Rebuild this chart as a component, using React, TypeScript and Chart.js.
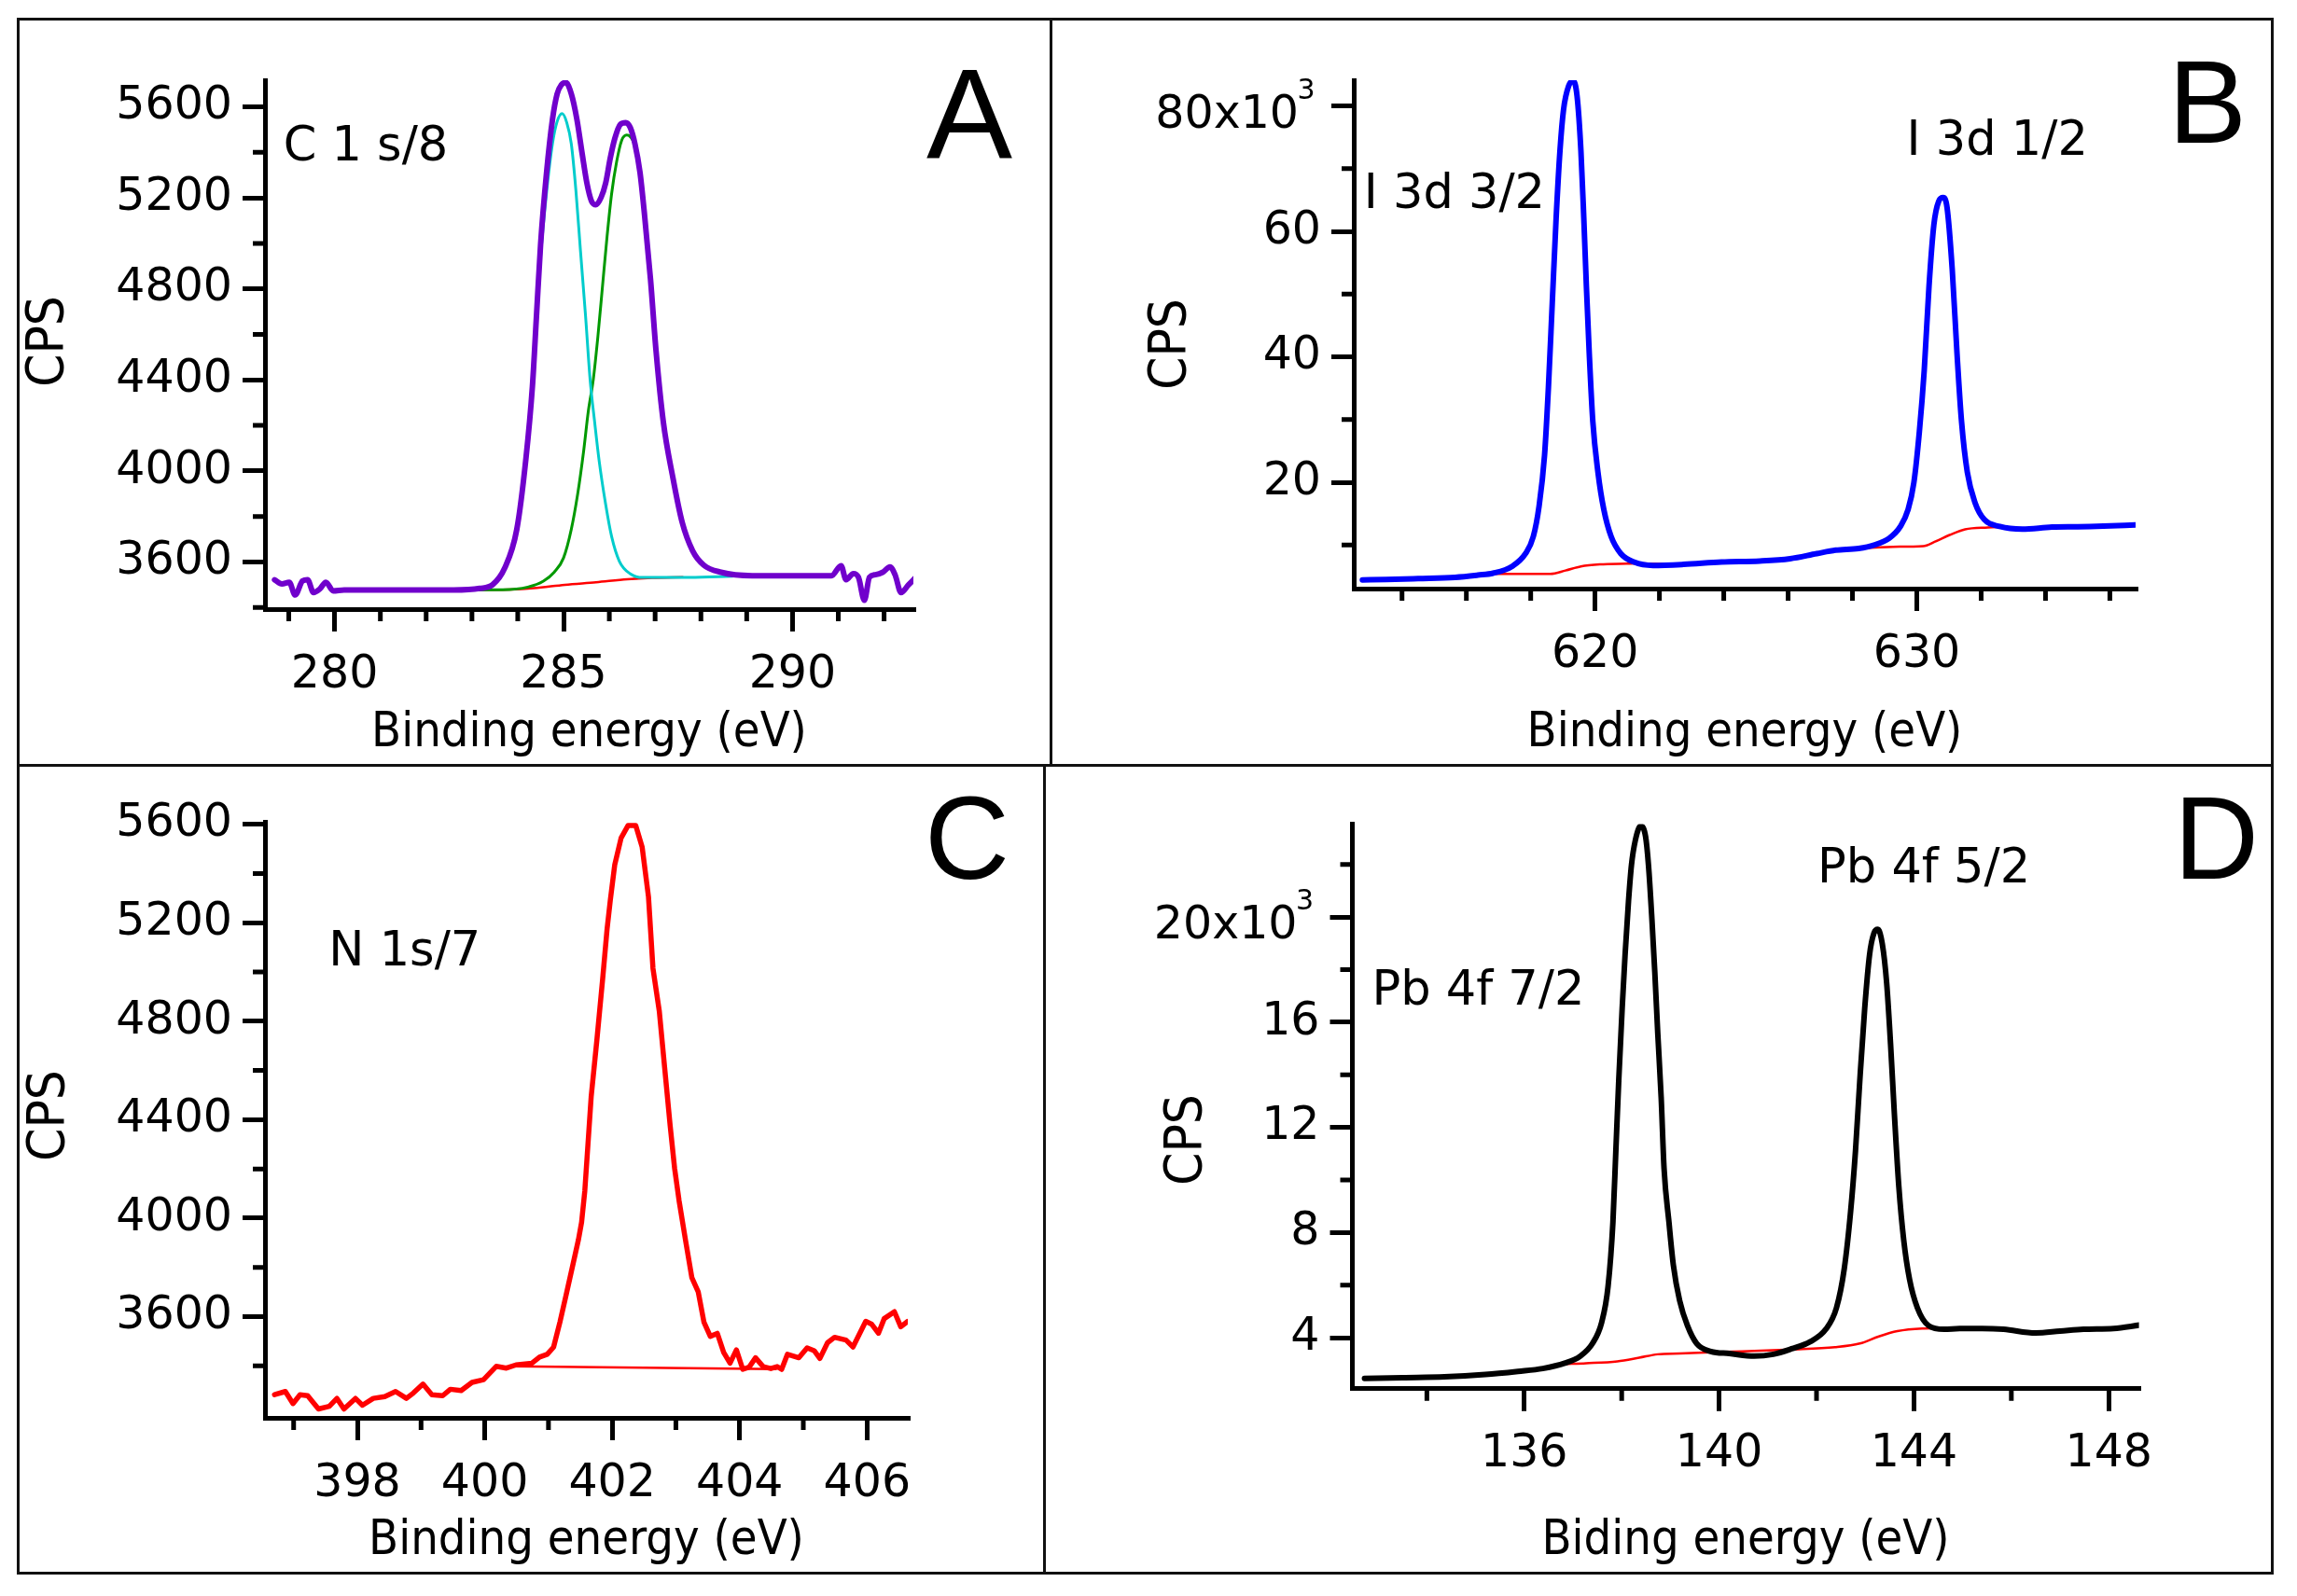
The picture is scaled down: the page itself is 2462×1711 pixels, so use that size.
import React, { useEffect, useRef } from 'react';
import { Chart, registerables } from 'chart.js';

Chart.register(...registerables);

// ================= DATA =================
// Panel A: C 1s/8 (CPS vs binding energy, eV)
const aTotal: number[][] = [
  [278.69, 3522], [278.85, 3504], [279.01, 3511], [279.14, 3455], [279.30, 3517], [279.41, 3522],
  [279.54, 3466], [279.68, 3482], [279.81, 3511], [279.97, 3473], [280.21, 3477], [281.50, 3477],
  [282.60, 3477], [283.17, 3484], [283.45, 3500], [283.71, 3571], [283.98, 3744], [284.18, 4057],
  [284.32, 4371], [284.41, 4684], [284.50, 4998], [284.63, 5312], [284.76, 5547], [284.86, 5657],
  [284.95, 5696], [285.05, 5707], [285.17, 5657], [285.29, 5547], [285.41, 5390], [285.51, 5265],
  [285.61, 5186], [285.71, 5170], [285.82, 5202], [285.92, 5265], [286.02, 5374], [286.12, 5461],
  [286.24, 5523], [286.36, 5531], [286.46, 5508], [286.56, 5437], [286.67, 5312], [286.77, 5123],
  [286.90, 4841], [287.02, 4528], [287.18, 4214], [287.38, 3979], [287.59, 3775], [287.82, 3649],
  [288.06, 3587], [288.44, 3555], [289.12, 3540], [290.00, 3540], [290.85, 3540], [291.06, 3584],
  [291.17, 3522], [291.33, 3549], [291.44, 3533], [291.57, 3432], [291.68, 3533], [291.81, 3544],
  [291.97, 3555], [292.13, 3578], [292.24, 3544], [292.37, 3466], [292.53, 3499], [292.66, 3526],
];
const aPeak1: number[][] = [
  [282.60, 3477], [283.17, 3482], [283.45, 3497], [283.71, 3565], [283.98, 3735], [284.18, 4040],
  [284.32, 4345], [284.41, 4645], [284.50, 4940], [284.63, 5225], [284.76, 5440], [284.86, 5535],
  [284.97, 5570], [285.07, 5531], [285.17, 5437], [285.27, 5233], [285.37, 4967], [285.48, 4684],
  [285.58, 4402], [285.68, 4214], [285.78, 4041], [285.92, 3853], [286.05, 3712], [286.22, 3603],
  [286.46, 3548], [286.73, 3532], [287.76, 3532], [288.69, 3537],
];
const aPeak2: number[][] = [
  [282.60, 3477], [283.67, 3478], [284.22, 3490], [284.56, 3516], [284.80, 3556], [285.00, 3618],
  [285.17, 3744], [285.31, 3900], [285.44, 4089], [285.54, 4261], [285.65, 4402], [285.75, 4590],
  [285.85, 4810], [285.95, 5029], [286.05, 5218], [286.16, 5359], [286.27, 5453], [286.38, 5476],
  [286.46, 5468], [286.56, 5430], [286.67, 5305], [286.77, 5115], [286.90, 4835], [287.02, 4522],
  [287.18, 4208], [287.38, 3973], [287.59, 3770], [287.82, 3645], [288.06, 3583], [288.44, 3552],
  [289.12, 3540],
];
const aBackground: number[][] = [
  [282.60, 3477], [283.67, 3478], [284.35, 3485], [285.03, 3500], [285.71, 3511], [286.39, 3524],
  [286.94, 3530], [287.60, 3533],
];
const aXTicks = [280, 285, 290];
const aXLabels = ['280', '285', '290'];
const aXMinor = [279, 281, 282, 283, 284, 286, 287, 288, 289, 291, 292];
const aYTicks = [3600, 4000, 4400, 4800, 5200, 5600];
const aYLabels = ['3600', '4000', '4400', '4800', '5200', '5600'];
const aYMinor = [3400, 3800, 4200, 4600, 5000, 5400];

// Panel B: I 3d (kCPS)
const bTotal: number[][] = [
  [612.77, 4.44], [613.50, 4.50], [614.50, 4.65], [615.65, 4.85], [616.36, 5.20], [616.83, 5.50],
  [617.42, 6.58], [617.84, 8.63], [618.08, 11.33], [618.26, 16.2], [618.43, 24.3], [618.55, 35.1],
  [618.67, 48.6], [618.79, 62.1], [618.91, 72.9], [619.02, 79.4], [619.18, 83.2], [619.32, 84.0],
  [619.44, 81.6], [619.56, 72.9], [619.65, 62.1], [619.73, 51.3], [619.82, 40.5], [619.93, 29.7],
  [620.09, 21.6], [620.27, 15.7], [620.50, 11.33], [620.80, 8.63], [621.21, 7.28], [621.80, 6.74],
  [622.75, 6.90], [623.93, 7.28], [625.12, 7.45], [626.06, 7.82], [626.89, 8.63], [627.48, 9.17],
  [628.19, 9.45], [628.67, 9.99], [629.14, 11.06], [629.49, 12.95], [629.73, 15.66], [629.91, 19.98],
  [630.08, 28.1], [630.23, 37.8], [630.38, 51.3], [630.53, 61.05], [630.68, 64.8], [630.82, 65.4],
  [630.94, 63.8], [631.10, 54.0], [631.25, 40.5], [631.39, 29.7], [631.57, 21.6], [631.81, 16.74],
  [632.10, 14.04], [632.58, 12.95], [633.28, 12.52], [634.20, 12.85], [635.00, 12.90], [635.80, 13.00],
  [636.79, 13.20],
];
const bBackground: number[][] = [
  [616.60, 5.40], [618.61, 5.40], [619.08, 5.93], [619.56, 6.58], [620.15, 6.90], [620.98, 7.01],
  [621.40, 7.05], [622.75, 6.90], [624.00, 7.28], [626.00, 7.80], [627.50, 9.15], [628.19, 9.45],
  [629.26, 9.72], [630.20, 9.82], [630.55, 10.50], [631.02, 11.60], [631.50, 12.50], [632.21, 12.80],
  [632.69, 12.90],
];
const bXTicks = [620, 630];
const bXLabels = ['620', '630'];
const bXMinor = [614, 616, 618, 622, 624, 626, 628, 632, 634, 636];
const bYTicks = [20, 40, 60, 80];
const bYLabels = ['20', '40', '60', ''];
const bYMinor = [10, 30, 50, 70];

// Panel C: N 1s/7 (CPS)
const cTotal: number[][] = [
  [396.70, 3283], [396.87, 3296], [396.99, 3247], [397.10, 3283], [397.22, 3279], [397.39, 3225],
  [397.56, 3236], [397.68, 3268], [397.79, 3225], [397.97, 3268], [398.08, 3240], [398.25, 3268],
  [398.43, 3275], [398.60, 3296], [398.77, 3268], [398.88, 3290], [399.03, 3326], [399.17, 3283],
  [399.34, 3279], [399.46, 3305], [399.63, 3300], [399.80, 3333], [399.98, 3344], [400.18, 3398],
  [400.34, 3391], [400.49, 3404], [400.74, 3411], [400.86, 3436], [400.98, 3447], [401.08, 3476],
  [401.18, 3578], [401.27, 3680], [401.37, 3796], [401.47, 3912], [401.52, 3984], [401.57, 4110],
  [401.67, 4492], [401.76, 4724], [401.85, 4971], [401.92, 5174], [401.97, 5290], [402.04, 5435],
  [402.14, 5544], [402.25, 5595], [402.37, 5595], [402.47, 5508], [402.57, 5305], [402.64, 5015],
  [402.74, 4840], [402.83, 4594], [402.91, 4376], [402.98, 4202], [403.05, 4071], [403.15, 3912],
  [403.25, 3759], [403.35, 3701], [403.44, 3578], [403.54, 3520], [403.65, 3532], [403.75, 3455],
  [403.85, 3411], [403.95, 3465], [404.05, 3386], [404.15, 3395], [404.25, 3433], [404.37, 3397],
  [404.49, 3389], [404.59, 3397], [404.66, 3386], [404.75, 3447], [404.93, 3433], [405.06, 3473],
  [405.17, 3462], [405.26, 3430], [405.38, 3494], [405.49, 3516], [405.67, 3505], [405.78, 3477],
  [405.98, 3581], [406.07, 3570], [406.18, 3533], [406.27, 3592], [406.43, 3620], [406.53, 3559],
  [406.64, 3581],
];
const cBackground: number[][] = [[400.44, 3398], [402.50, 3393], [404.57, 3387]];
const cXTicks = [398, 400, 402, 404, 406];
const cXLabels = ['398', '400', '402', '404', '406'];
const cXMinor = [397, 399, 401, 403, 405];
const cYTicks = [3600, 4000, 4400, 4800, 5200, 5600];
const cYLabels = ['3600', '4000', '4400', '4800', '5200', '5600'];
const cYMinor = [3400, 3800, 4200, 4600, 5000, 5400];

// Panel D: Pb 4f (kCPS)
const dTotal: number[][] = [
  [132.72, 2.45], [133.50, 2.48], [134.36, 2.51], [135.20, 2.60], [135.87, 2.72], [136.38, 2.83],
  [136.83, 3.03], [137.15, 3.30], [137.40, 3.78], [137.59, 4.59], [137.72, 5.95], [137.82, 8.40],
  [137.88, 11.11], [137.94, 13.82], [138.01, 16.54], [138.07, 18.58], [138.14, 20.61], [138.20, 21.97],
  [138.28, 22.92], [138.39, 23.46], [138.49, 23.06], [138.55, 21.97], [138.62, 19.93], [138.68, 17.90],
  [138.74, 15.59], [138.81, 13.15], [138.87, 10.43], [138.97, 8.40], [139.06, 6.77], [139.19, 5.41],
  [139.35, 4.46], [139.54, 3.78], [139.83, 3.48], [140.21, 3.40], [140.72, 3.30], [141.11, 3.37],
  [141.49, 3.58], [141.87, 3.85], [142.19, 4.32], [142.41, 5.14], [142.57, 6.63], [142.70, 8.80],
  [142.80, 11.11], [142.89, 13.82], [142.99, 16.54], [143.09, 18.58], [143.18, 19.39], [143.26, 19.53],
  [143.35, 18.98], [143.44, 17.49], [143.52, 15.18], [143.60, 12.47], [143.69, 9.75], [143.79, 7.72],
  [143.91, 6.22], [144.07, 5.14], [144.30, 4.46], [144.62, 4.32], [144.94, 4.35], [145.40, 4.35],
  [145.84, 4.32], [146.50, 4.18], [147.00, 4.25], [147.48, 4.32], [148.10, 4.35], [148.63, 4.48],
];
const dBackground: number[][] = [
  [136.83, 3.00], [137.27, 3.03], [137.91, 3.10], [138.36, 3.24], [138.74, 3.37], [139.19, 3.40],
  [139.70, 3.44], [140.47, 3.48], [141.49, 3.55], [142.38, 3.64], [142.89, 3.78], [143.28, 4.05],
  [143.66, 4.25], [144.17, 4.35], [144.49, 4.36],
];
const dXTicks = [136, 140, 144, 148];
const dXLabels = ['136', '140', '144', '148'];
const dXMinor = [134, 138, 142, 146];
const dYTicks = [4, 8, 12, 16, 20];
const dYLabels = ['4', '8', '12', '16', ''];
const dYMinor = [6, 10, 14, 18, 22];

// ================= LAYOUT / STYLE =================
type Rect = { left: number; top: number; width: number; height: number };
type Area = { l: number; t: number; r: number; b: number };
type Series = { pts: number[][]; color: string; width: number; smooth: boolean };
type Note = { text: string; x: number; y: number };
type Spec = {
  rect: Rect;
  area: Area;
  xRange: [number, number];
  yRange: [number, number];
  xTicks: number[]; xLabels: string[]; xMinor: number[];
  yTicks: number[]; yLabels: string[]; yMinor: number[];
  exp?: { main: string; sup: string };
  series: Series[];
  xTitle: string;
  yTitle: { text: string; cx: number; cy: number };
  notes: Note[];
  letter: { text: string; x: number; y: number; size: number };
};

const TICK_LEN = 24;
const MINOR_LEN = 13;
const AXIS_W = 5;
const Y_PAD = 11;
const X_PAD = 17.5;
const TICK_FONT = 'DejaVu Sans';
const TICK_SIZE = 49;
const TITLE_FONT = 'DejaVu Sans Condensed';
const NOTE_SIZE = 51;

const specs: Spec[] = [
  {
    rect: { left: 21, top: 22, width: 1104, height: 797 },
    area: { l: 284, t: 86, r: 979, b: 653 },
    xRange: [278.48, 292.64], yRange: [3393, 5717],
    xTicks: aXTicks, xLabels: aXLabels, xMinor: aXMinor,
    yTicks: aYTicks, yLabels: aYLabels, yMinor: aYMinor,
    series: [
      { pts: aTotal, color: '#7000CC', width: 6, smooth: true },
      { pts: aPeak1, color: '#00CCCC', width: 3, smooth: true },
      { pts: aPeak2, color: '#009900', width: 3, smooth: true },
      { pts: aBackground, color: '#FF0000', width: 2.5, smooth: true },
    ],
    xTitle: 'Binding energy (eV)',
    yTitle: { text: 'CPS', cx: 52.5, cy: 366 },
    notes: [{ text: 'C 1 s/8', x: 278.88, y: 5366 }],
    letter: { text: 'A', x: 993, y: 170, size: 138 },
  },
  {
    rect: { left: 1128, top: 22, width: 1306, height: 797 },
    area: { l: 1451, t: 86, r: 2289, b: 631 },
    xRange: [612.5, 636.8], yRange: [3.05, 84.1],
    xTicks: bXTicks, xLabels: bXLabels, xMinor: bXMinor,
    yTicks: bYTicks, yLabels: bYLabels, yMinor: bYMinor,
    exp: { main: '80x10', sup: '3' },
    series: [
      { pts: bTotal, color: '#0000FF', width: 6, smooth: true },
      { pts: bBackground, color: '#FF0000', width: 2.5, smooth: true },
    ],
    xTitle: 'Binding energy (eV)',
    yTitle: { text: 'CPS', cx: 1255, cy: 369 },
    notes: [
      { text: 'I 3d 3/2', x: 612.81, y: 63.75 },
      { text: 'I 3d 1/2', x: 629.68, y: 72.13 },
    ],
    letter: { text: 'B', x: 2324, y: 153, size: 126 },
  },
  {
    rect: { left: 21, top: 822, width: 1097, height: 863 },
    area: { l: 284, t: 881, r: 973, b: 1520 },
    xRange: [396.55, 406.64], yRange: [3189, 5610],
    xTicks: cXTicks, xLabels: cXLabels, xMinor: cXMinor,
    yTicks: cYTicks, yLabels: cYLabels, yMinor: cYMinor,
    series: [
      { pts: cTotal, color: '#FF0000', width: 5.5, smooth: false },
      { pts: cBackground, color: '#FF0000', width: 2.5, smooth: false },
    ],
    xTitle: 'Binding energy (eV)',
    yTitle: { text: 'CPS', cx: 53, cy: 1196 },
    notes: [{ text: 'N 1s/7', x: 397.55, y: 5028 }],
    letter: { text: 'C', x: 991, y: 942, size: 126 },
  },
  {
    rect: { left: 1121, top: 822, width: 1313, height: 863 },
    area: { l: 1449.5, t: 883.6, r: 2292.6, b: 1488.8 },
    xRange: [132.47, 148.62], yRange: [2.06, 23.53],
    xTicks: dXTicks, xLabels: dXLabels, xMinor: dXMinor,
    yTicks: dYTicks, yLabels: dYLabels, yMinor: dYMinor,
    exp: { main: '20x10', sup: '3' },
    series: [
      { pts: dTotal, color: '#000000', width: 6, smooth: true },
      { pts: dBackground, color: '#FF0000', width: 2.5, smooth: true },
    ],
    xTitle: 'Biding energy (eV)',
    yTitle: { text: 'CPS', cx: 1272, cy: 1222 },
    notes: [
      { text: 'Pb 4f 5/2', x: 142.02, y: 21.32 },
      { text: 'Pb 4f 7/2', x: 132.87, y: 16.67 },
    ],
    letter: { text: 'D', x: 2330, y: 942, size: 126 },
  },
];

const boxes: Rect[] = [
  { left: 18, top: 19, width: 1110, height: 803 },
  { left: 1125, top: 19, width: 1312, height: 803 },
  { left: 18, top: 819, width: 1103, height: 869 },
  { left: 1118, top: 819, width: 1319, height: 869 },
];

function XpsPanel({ spec }: { spec: Spec }) {
  const ref = useRef<HTMLCanvasElement>(null);
  useEffect(() => {
    const s = spec;
    const { rect, area } = s;
    const yWidth = area.l - rect.left;
    const xHeight = rect.top + rect.height - area.b;
    const tickFont = { family: TICK_FONT, size: TICK_SIZE, lineHeight: 1.2 };

    const decor = {
      id: 'decor',
      afterDraw(chart: any) {
        const ctx: CanvasRenderingContext2D = chart.ctx;
        const xs = chart.scales.x;
        const ys = chart.scales.y;
        ctx.save();
        // minor ticks
        ctx.strokeStyle = '#000';
        ctx.lineWidth = AXIS_W;
        ctx.lineCap = 'butt';
        ctx.beginPath();
        s.xMinor.forEach((v) => {
          const p = xs.getPixelForValue(v);
          ctx.moveTo(p, xs.top);
          ctx.lineTo(p, xs.top + MINOR_LEN);
        });
        s.yMinor.forEach((v) => {
          const p = ys.getPixelForValue(v);
          ctx.moveTo(ys.right, p);
          ctx.lineTo(ys.right - MINOR_LEN, p);
        });
        ctx.stroke();
        ctx.fillStyle = '#000';
        // exponent label on the top y tick
        if (s.exp) {
          const v = s.yTicks[s.yTicks.length - 1];
          const p = ys.getPixelForValue(v);
          const right = ys.right - TICK_LEN - Y_PAD;
          ctx.font = `${TICK_SIZE}px "${TICK_FONT}"`;
          ctx.textAlign = 'right';
          ctx.textBaseline = 'middle';
          ctx.fillText(s.exp.main, right - 24, p + 10.5);
          ctx.font = `30px "${TICK_FONT}"`;
          ctx.textAlign = 'left';
          ctx.textBaseline = 'alphabetic';
          ctx.fillText(s.exp.sup, right - 25.5, p - 8);
        }
        // annotations in data coordinates
        ctx.font = `${NOTE_SIZE}px "DejaVu Sans"`;
        ctx.textAlign = 'left';
        ctx.textBaseline = 'alphabetic';
        s.notes.forEach((n) => {
          ctx.fillText(n.text, xs.getPixelForValue(n.x), ys.getPixelForValue(n.y));
        });
        // panel letter
        ctx.font = `${s.letter.size}px "Liberation Sans"`;
        ctx.fillText(s.letter.text, s.letter.x - rect.left, s.letter.y - rect.top);
        // y-axis title
        ctx.font = `56px "${TITLE_FONT}"`;
        ctx.translate(s.yTitle.cx - rect.left, s.yTitle.cy - rect.top);
        ctx.rotate(-Math.PI / 2);
        ctx.textAlign = 'center';
        ctx.textBaseline = 'middle';
        ctx.fillText(s.yTitle.text, 0, 0);
        ctx.restore();
      },
    };

    const chart = new Chart(ref.current as HTMLCanvasElement, {
      type: 'line',
      data: {
        datasets: s.series.map((se) => ({
          data: se.pts.map((p) => ({ x: p[0], y: p[1] })),
          borderColor: se.color,
          backgroundColor: se.color,
          borderWidth: se.width,
          pointRadius: 0,
          fill: false,
          tension: 0,
          cubicInterpolationMode: se.smooth ? 'monotone' : 'default',
          borderJoinStyle: 'round',
          borderCapStyle: 'round',
        })),
      },
      options: {
        animation: false,
        responsive: true,
        maintainAspectRatio: false,
        events: [],
        layout: {
          padding: {
            left: 0,
            bottom: 0,
            top: area.t - rect.top,
            right: rect.left + rect.width - area.r,
          },
        },
        plugins: { legend: { display: false }, tooltip: { enabled: false }, title: { display: false } },
        scales: {
          x: {
            type: 'linear',
            position: 'bottom',
            min: s.xRange[0],
            max: s.xRange[1],
            afterBuildTicks: (sc: any) => {
              sc.ticks = s.xTicks.map((v) => ({ value: v }));
            },
            afterFit: (sc: any) => {
              sc.height = xHeight;
            },
            ticks: {
              autoSkip: false,
              maxRotation: 0,
              minRotation: 0,
              padding: X_PAD,
              font: tickFont,
              color: '#000',
              callback: (_v: any, i: number) => s.xLabels[i],
            },
            grid: {
              drawOnChartArea: false,
              drawTicks: true,
              tickLength: TICK_LEN,
              tickWidth: AXIS_W,
              lineWidth: AXIS_W,
              color: '#000',
            },
            border: { display: true, color: '#000', width: AXIS_W },
            title: {
              display: true,
              text: s.xTitle,
              color: '#000',
              font: { family: TITLE_FONT, size: 52, lineHeight: 1 },
              padding: { top: 0, bottom: 7 },
            },
          },
          y: {
            type: 'linear',
            position: 'left',
            min: s.yRange[0],
            max: s.yRange[1],
            afterBuildTicks: (sc: any) => {
              sc.ticks = s.yTicks.map((v) => ({ value: v }));
            },
            afterFit: (sc: any) => {
              sc.width = yWidth;
            },
            ticks: {
              autoSkip: false,
              padding: Y_PAD,
              font: tickFont,
              color: '#000',
              callback: (_v: any, i: number) => s.yLabels[i],
            },
            grid: {
              drawOnChartArea: false,
              drawTicks: true,
              tickLength: TICK_LEN,
              tickWidth: AXIS_W,
              lineWidth: AXIS_W,
              color: '#000',
            },
            border: { display: true, color: '#000', width: AXIS_W },
            title: { display: false },
          },
        },
      } as any,
      plugins: [decor],
    });
    return () => chart.destroy();
  }, [spec]);

  const { rect } = spec;
  return (
    <div style={{ position: 'absolute', left: rect.left, top: rect.top, width: rect.width, height: rect.height }}>
      <canvas ref={ref} style={{ display: 'block' }} />
    </div>
  );
}

export default function App() {
  return (
    <div
      style={{
        position: 'absolute',
        left: 0,
        top: 0,
        width: 2462,
        height: 1711,
        background: '#fff',
        overflow: 'hidden',
      }}
    >
      {boxes.map((b, i) => (
        <div
          key={'box' + i}
          style={{
            position: 'absolute',
            left: b.left,
            top: b.top,
            width: b.width,
            height: b.height,
            border: '3px solid #111',
            boxSizing: 'border-box',
          }}
        />
      ))}
      {specs.map((s, i) => (
        <XpsPanel key={'panel' + i} spec={s} />
      ))}
    </div>
  );
}
